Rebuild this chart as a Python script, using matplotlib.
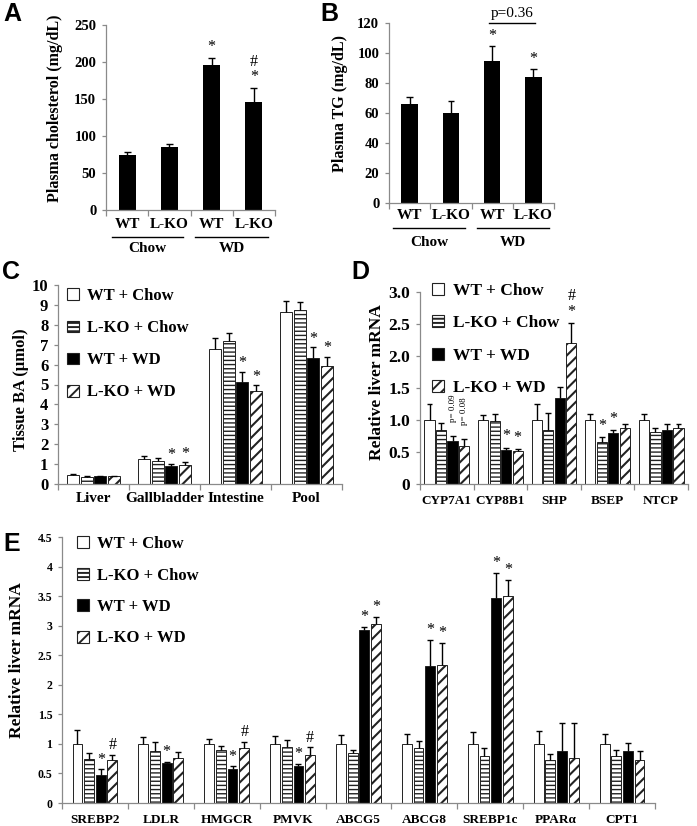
import numpy as np
import matplotlib
matplotlib.use("Agg")
import matplotlib.pyplot as plt
from matplotlib.patches import Patch

W, H = 697, 826

plt.rcParams['font.family'] = ['Liberation Serif', 'DejaVu Serif']
plt.rcParams['font.weight'] = 'bold'
plt.rcParams['hatch.linewidth'] = 1.4
plt.rcParams['axes.linewidth'] = 0.9

# --- A / B: plasma lipids ---
ab_labels = ['WT', 'L-KO', 'WT', 'L-KO']
diet_labels = ['Chow', 'WD']
chol_mean = [74, 85, 196, 146]
chol_err = [5, 4.5, 9, 19]
tg_mean = [66, 60, 95, 84]
tg_err = [4.5, 8, 10, 5.5]

groups = ['WT + Chow', 'L-KO + Chow', 'WT + WD', 'L-KO + WD']

# --- C: tissue bile acids ---
tissues = ['Liver', 'Gallbladder', 'Intestine', 'Pool']
ba_wt_chow = [0.45, 1.26, 6.77, 8.66]
ba_ko_chow = [0.35, 1.14, 7.19, 8.74]
ba_wt_wd = [0.38, 0.90, 5.14, 6.31]
ba_ko_wd = [0.38, 0.93, 4.67, 5.93]
ba_err_wt_chow = [0.05, 0.15, 0.55, 0.55]
ba_err_ko_chow = [0.03, 0.16, 0.42, 0.42]
ba_err_wt_wd = [0.03, 0.13, 0.50, 0.56]
ba_err_ko_wd = [0.03, 0.17, 0.28, 0.47]

# --- D: bile acid genes ---
genes_d = ['CYP7A1', 'CYP8B1', 'SHP', 'BSEP', 'NTCP']
d_wt_chow = [1.0, 1.0, 1.0, 1.0, 1.0]
d_ko_chow = [0.85, 0.98, 0.85, 0.66, 0.82]
d_wt_wd = [0.67, 0.53, 1.34, 0.79, 0.85]
d_ko_wd = [0.60, 0.51, 2.21, 0.87, 0.87]
d_err_wt_chow = [0.25, 0.08, 0.25, 0.10, 0.09]
d_err_ko_chow = [0.10, 0.12, 0.26, 0.08, 0.06]
d_err_wt_wd = [0.08, 0.04, 0.17, 0.05, 0.08]
d_err_ko_wd = [0.10, 0.03, 0.30, 0.06, 0.06]

# --- E: lipid genes ---
genes_e = ['SREBP2', 'LDLR', 'HMGCR', 'PMVK', 'ABCG5', 'ABCG8', 'SREBP1c', 'PPARα', 'CPT1']
e_wt_chow = [1.0, 1.0, 1.0, 1.0, 1.0, 1.0, 1.0, 1.0, 1.0]
e_ko_chow = [0.75, 0.88, 0.90, 0.94, 0.84, 0.93, 0.80, 0.73, 0.79]
e_wt_wd = [0.48, 0.67, 0.57, 0.62, 2.92, 2.31, 3.46, 0.88, 0.88]
e_ko_wd = [0.73, 0.76, 0.93, 0.82, 3.03, 2.34, 3.51, 0.76, 0.72]
e_err_wt_chow = [0.24, 0.11, 0.08, 0.13, 0.15, 0.17, 0.20, 0.21, 0.17]
e_err_ko_chow = [0.09, 0.16, 0.06, 0.12, 0.06, 0.12, 0.13, 0.10, 0.11]
e_err_wt_wd = [0.09, 0.03, 0.05, 0.04, 0.06, 0.45, 0.43, 0.48, 0.14]
e_err_ko_wd = [0.09, 0.11, 0.10, 0.12, 0.12, 0.37, 0.27, 0.60, 0.16]

# significance marks: (category, series, symbols bottom->top)
a_marks = [(2, 0, '*'), (3, 0, '*#')]
b_marks = [(2, 0, '*'), (3, 0, '*')]
c_marks = [(1, 2, '*'), (1, 3, '*'), (2, 2, '*'), (2, 3, '*'), (3, 2, '*'), (3, 3, '*')]
d_marks = [(1, 2, '*'), (1, 3, '*'), (2, 3, '*#'), (3, 1, '*'), (3, 2, '*')]
e_marks = [(0, 2, '*'), (0, 3, '#'), (1, 2, '*'), (2, 2, '*'), (2, 3, '#'), (3, 2, '*'), (3, 3, '#'),
           (4, 2, '*'), (4, 3, '*'), (5, 2, '*'), (5, 3, '*'), (6, 2, '*'), (6, 3, '*')]

FACES = ['white', 'white', 'black', 'white']
HATCHES = ['', '----', '', '///']
GREY = '#8a8a8a'

fig = plt.figure(figsize=(W / 100, H / 100), dpi=100)


def px_axes(l, t, r, b):
    return fig.add_axes([l / W, 1 - b / H, (r - l) / W, (b - t) / H])


def style(ax, labels, xfs, yfs, ylim, yticks, yticklabels, xpad):
    n = len(labels)
    ax.set_xlim(-0.5, n - 0.5)
    ax.set_ylim(*ylim)
    ax.set_xticks(np.arange(n))
    ax.set_xticklabels(labels, fontsize=xfs)
    ax.set_xticks(np.arange(n + 1) - 0.5, minor=True)
    ax.tick_params(axis='x', which='major', length=0, pad=xpad)
    ax.tick_params(axis='x', which='minor', length=4, color=GREY, width=0.9)
    ax.set_yticks(yticks)
    ax.set_yticklabels(yticklabels, fontsize=yfs)
    ax.tick_params(axis='y', length=3, color=GREY, width=0.9, pad=4)
    for s in ['top', 'right']:
        ax.spines[s].set_visible(False)
    for s in ['left', 'bottom']:
        ax.spines[s].set_color(GREY)


def errbars(ax, x, m, e, cw):
    m = np.asarray(m)
    e = np.asarray(e)
    ax.vlines(x, m, m + e, color='black', lw=1, zorder=3)
    ax.hlines(m + e, x - cw, x + cw, color='black', lw=1, zorder=3)


def marks(ax, tops, xs, mk, step=10, base=6, fs=11.5):
    for gi, si, syms in mk:
        for k, s in enumerate(syms):
            ax.annotate(s, (xs[si][gi], tops[si][gi]), xytext=(0, base + k * step),
                        textcoords='offset points', ha='center', va='center',
                        fontsize=fs, fontweight='normal', annotation_clip=False)


def grouped(ax, means, errs, spacing, width, cw):
    n = len(means[0])
    xs, tops = [], []
    for i in range(4):
        x = np.arange(n) + (i - 1.5) * spacing
        bars = ax.bar(x, means[i], width, color=FACES[i], edgecolor='#222222',
                      linewidth=0.7, hatch=HATCHES[i], zorder=2)
        if hasattr(bars[0], 'set_hatch_linewidth'):
            for b in bars:
                b.set_hatch_linewidth(1.0 if i == 1 else 1.5)
        errbars(ax, x, means[i], errs[i], cw)
        xs.append(x)
        tops.append(np.asarray(means[i]) + np.asarray(errs[i]))
    return xs, tops


def legend(ax, x, y, fs, sp):
    handles = [Patch(facecolor=FACES[i], edgecolor='#222222', hatch=HATCHES[i], linewidth=0.8)
               for i in range(4)]
    ax.legend(handles, groups, loc='upper left', bbox_to_anchor=(x / W, 1 - y / H),
              bbox_transform=fig.transFigure, frameon=False, fontsize=fs,
              handlelength=0.7, handleheight=0.7, handletextpad=0.5,
              labelspacing=sp, borderpad=0, borderaxespad=0)


def diet_axis(ax, axh, line_px, text_px, spans, fs):
    tr = ax.get_xaxis_transform()
    for (x0, x1), lab in zip(spans, diet_labels):
        ax.plot([x0, x1], [-line_px / axh] * 2, color='black', lw=1, transform=tr, clip_on=False)
        ax.text((x0 + x1) / 2, -text_px / axh, lab, transform=tr, ha='center', va='center',
                fontsize=fs)


# ---------- A ----------
axA = px_axes(106, 25, 275, 210)
x4 = np.arange(4)
axA.bar(x4, chol_mean, 0.4, color='black', zorder=2)
errbars(axA, x4, chol_mean, chol_err, 0.08)
style(axA, ab_labels, 11, 10.5, (0, 250), np.arange(0, 251, 50), [str(v) for v in range(0, 251, 50)], 6)
tops = np.asarray(chol_mean) + np.asarray(chol_err)
marks(axA, [tops], [x4], a_marks, step=11, base=8)
diet_axis(axA, 185, 27, 38, [(-0.36, 1.32), (1.61, 3.33)], 11)

# ---------- B ----------
axB = px_axes(389, 23, 554, 203)
axB.bar(x4, tg_mean, 0.4, color='black', zorder=2)
errbars(axB, x4, tg_mean, tg_err, 0.08)
style(axB, ab_labels, 11, 10.5, (0, 120), np.arange(0, 121, 20), [str(v) for v in range(0, 121, 20)], 4)
tops = np.asarray(tg_mean) + np.asarray(tg_err)
marks(axB, [tops], [x4], b_marks, base=7)
diet_axis(axB, 180, 25, 40, [(-0.40, 1.34), (1.63, 3.38)], 11)
axB.plot([1.92, 3.04], [120, 120], color='black', lw=1, clip_on=False)
axB.annotate('p=0.36', (2.48, 120), xytext=(0, 2), textcoords='offset points', ha='center',
             va='bottom', fontsize=11, fontweight='normal', annotation_clip=False)

# ---------- C ----------
axC = px_axes(58, 285, 342, 484)
xs, tops = grouped(axC, [ba_wt_chow, ba_ko_chow, ba_wt_wd, ba_ko_wd],
                   [ba_err_wt_chow, ba_err_ko_chow, ba_err_wt_wd, ba_err_ko_wd], 0.19, 0.165, 0.045)
style(axC, tissues, 11, 12, (0, 10), np.arange(0, 11), [str(v) for v in range(11)], 6)
marks(axC, tops, xs, c_marks, base=6)
legend(axC, 67, 288, 12, 0.97)

# ---------- D ----------
axD = px_axes(420, 292, 688, 484)
xs, tops = grouped(axD, [d_wt_chow, d_ko_chow, d_wt_wd, d_ko_wd],
                   [d_err_wt_chow, d_err_ko_chow, d_err_wt_wd, d_err_ko_wd], 0.215, 0.19, 0.055)
style(axD, genes_d, 9.5, 12.5, (0, 3), np.arange(0, 3.01, 0.5),
      ['0', '0.5', '1.0', '1.5', '2.0', '2.5', '3.0'], 8)
marks(axD, tops, xs, d_marks, step=12, base=8)
for si, txt in [(2, 'p= 0.09'), (3, 'p= 0.08')]:
    axD.annotate(txt, (xs[si][0], tops[si][0]), xytext=(0, 10), textcoords='offset points',
                 ha='center', va='bottom', rotation=90, fontsize=6.5, fontweight='normal')
legend(axD, 432, 283, 12.5, 0.93)

# ---------- E ----------
axE = px_axes(62, 537, 655, 803)
xs, tops = grouped(axE, [e_wt_chow, e_ko_chow, e_wt_wd, e_ko_wd],
                   [e_err_wt_chow, e_err_ko_chow, e_err_wt_wd, e_err_ko_wd], 0.177, 0.15, 0.045)
style(axE, genes_e, 9.5, 8.5, (0, 4.5), np.arange(0, 4.51, 0.5),
      ['0', '0.5', '1', '1.5', '2', '2.5', '3', '3.5', '4', '4.5'], 8)
marks(axE, tops, xs, e_marks, base=7)
legend(axE, 77, 536, 12, 0.93)

# ---------- labels ----------
ylab = [(55, 108, 'Plasma cholesterol (mg/dL)', 11.5), (340, 104, 'Plasma TG (mg/dL)', 11.5),
        (21, 390, 'Tissue BA (μmol)', 12), (377, 382, 'Relative liver mRNA', 12.5),
        (17, 660, 'Relative liver mRNA', 12.5)]
for x, y, s, fs in ylab:
    fig.text(x / W, 1 - y / H, s, rotation=90, ha='center', va='center', fontsize=fs)

for x, y, s in [(12, 14, 'A'), (329, 14, 'B'), (11, 272, 'C'), (360, 272, 'D'), (12, 544, 'E')]:
    fig.text(x / W, 1 - y / H, s, ha='center', va='center', fontsize=18,
             family=['Liberation Sans', 'DejaVu Sans'], fontweight='bold')

fig.savefig('out.png', dpi=100)
